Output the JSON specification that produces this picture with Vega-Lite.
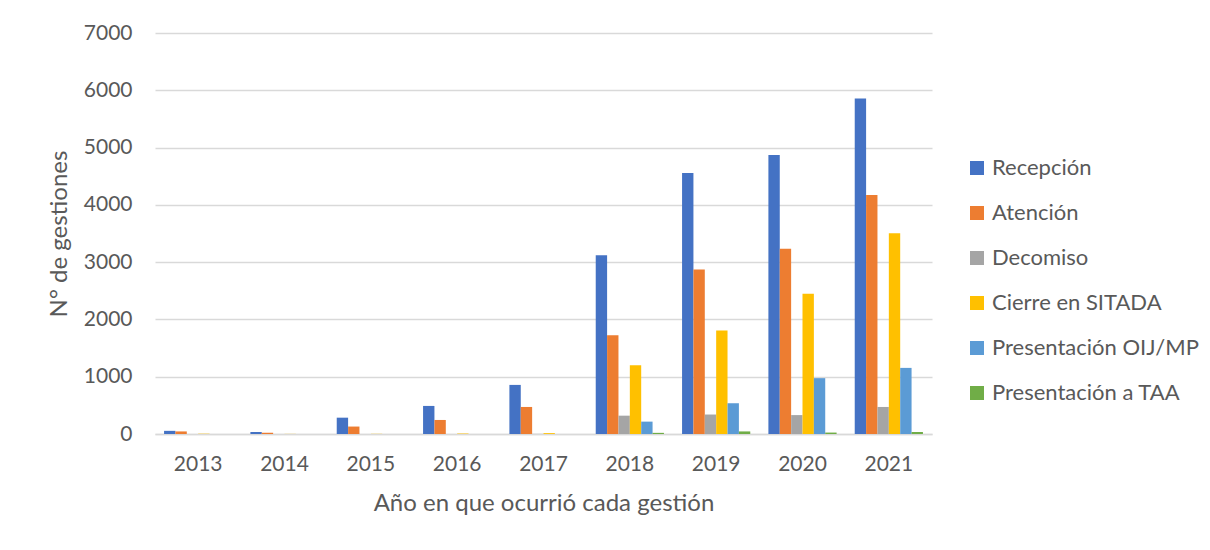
{
  "$schema": "https://vega.github.io/schema/vega-lite/v6.json",
  "width": 777,
  "height": 401,
  "autosize": {"type": "none"},
  "padding": {"left": 155, "top": 33, "right": 278, "bottom": 116},
  "background": "white",
  "config": {
    "view": {"stroke": null},
    "font": "Lato"
  },
  "data": {
    "values": [
      {"year": "2013", "series": "Recepción", "value": 55},
      {"year": "2013", "series": "Atención", "value": 45},
      {"year": "2013", "series": "Decomiso", "value": 0},
      {"year": "2013", "series": "Cierre en SITADA", "value": 5},
      {"year": "2013", "series": "Presentación OIJ/MP", "value": 0},
      {"year": "2013", "series": "Presentación a TAA", "value": 0},
      {"year": "2014", "series": "Recepción", "value": 35},
      {"year": "2014", "series": "Atención", "value": 20},
      {"year": "2014", "series": "Decomiso", "value": 0},
      {"year": "2014", "series": "Cierre en SITADA", "value": 2},
      {"year": "2014", "series": "Presentación OIJ/MP", "value": 0},
      {"year": "2014", "series": "Presentación a TAA", "value": 0},
      {"year": "2015", "series": "Recepción", "value": 285},
      {"year": "2015", "series": "Atención", "value": 130},
      {"year": "2015", "series": "Decomiso", "value": 0},
      {"year": "2015", "series": "Cierre en SITADA", "value": 3},
      {"year": "2015", "series": "Presentación OIJ/MP", "value": 0},
      {"year": "2015", "series": "Presentación a TAA", "value": 0},
      {"year": "2016", "series": "Recepción", "value": 490},
      {"year": "2016", "series": "Atención", "value": 245},
      {"year": "2016", "series": "Decomiso", "value": 0},
      {"year": "2016", "series": "Cierre en SITADA", "value": 8},
      {"year": "2016", "series": "Presentación OIJ/MP", "value": 0},
      {"year": "2016", "series": "Presentación a TAA", "value": 0},
      {"year": "2017", "series": "Recepción", "value": 857},
      {"year": "2017", "series": "Atención", "value": 472},
      {"year": "2017", "series": "Decomiso", "value": 2},
      {"year": "2017", "series": "Cierre en SITADA", "value": 15},
      {"year": "2017", "series": "Presentación OIJ/MP", "value": 0},
      {"year": "2017", "series": "Presentación a TAA", "value": 0},
      {"year": "2018", "series": "Recepción", "value": 3122},
      {"year": "2018", "series": "Atención", "value": 1725},
      {"year": "2018", "series": "Decomiso", "value": 320},
      {"year": "2018", "series": "Cierre en SITADA", "value": 1200},
      {"year": "2018", "series": "Presentación OIJ/MP", "value": 216},
      {"year": "2018", "series": "Presentación a TAA", "value": 20},
      {"year": "2019", "series": "Recepción", "value": 4554},
      {"year": "2019", "series": "Atención", "value": 2872},
      {"year": "2019", "series": "Decomiso", "value": 340},
      {"year": "2019", "series": "Cierre en SITADA", "value": 1808},
      {"year": "2019", "series": "Presentación OIJ/MP", "value": 537},
      {"year": "2019", "series": "Presentación a TAA", "value": 45},
      {"year": "2020", "series": "Recepción", "value": 4869},
      {"year": "2020", "series": "Atención", "value": 3234},
      {"year": "2020", "series": "Decomiso", "value": 330},
      {"year": "2020", "series": "Cierre en SITADA", "value": 2448},
      {"year": "2020", "series": "Presentación OIJ/MP", "value": 975},
      {"year": "2020", "series": "Presentación a TAA", "value": 25},
      {"year": "2021", "series": "Recepción", "value": 5855},
      {"year": "2021", "series": "Atención", "value": 4170},
      {"year": "2021", "series": "Decomiso", "value": 472},
      {"year": "2021", "series": "Cierre en SITADA", "value": 3505},
      {"year": "2021", "series": "Presentación OIJ/MP", "value": 1154},
      {"year": "2021", "series": "Presentación a TAA", "value": 35}
    ]
  },
  "mark": {"type": "bar"},
  "encoding": {
    "x": {
      "field": "year",
      "type": "nominal",
      "scale": {"paddingInner": 0.21, "paddingOuter": 0.105},
      "axis": {
        "title": "Año en que ocurrió cada gestión",
        "labelAngle": 0,
        "labelFont": "Lato",
        "labelFontSize": 21,
        "labelColor": "#595959",
        "labelPadding": 19,
        "titleFont": "Lato",
        "titleFontSize": 24,
        "titleFontWeight": "normal",
        "titleColor": "#595959",
        "titlePadding": 17,
        "ticks": false,
        "domainColor": "#D9D9D9",
        "domainWidth": 1.5
      }
    },
    "xOffset": {
      "field": "series",
      "type": "nominal",
      "sort": ["Recepción", "Atención", "Decomiso", "Cierre en SITADA", "Presentación OIJ/MP", "Presentación a TAA"],
      "scale": {"paddingInner": 0, "paddingOuter": 0}
    },
    "y": {
      "field": "value",
      "type": "quantitative",
      "scale": {"domain": [0, 7000], "nice": false},
      "axis": {
        "title": "N° de gestiones",
        "values": [0, 1000, 2000, 3000, 4000, 5000, 6000, 7000],
        "format": "d",
        "labelFont": "Lato",
        "labelFontSize": 21,
        "labelColor": "#595959",
        "labelPadding": 23,
        "titleFont": "Lato",
        "titleFontSize": 24,
        "titleFontWeight": "normal",
        "titleColor": "#595959",
        "titlePadding": 12,
        "ticks": false,
        "domain": false,
        "gridColor": "#D9D9D9",
        "gridWidth": 1.5
      }
    },
    "color": {
      "field": "series",
      "type": "nominal",
      "sort": ["Recepción", "Atención", "Decomiso", "Cierre en SITADA", "Presentación OIJ/MP", "Presentación a TAA"],
      "scale": {
        "domain": ["Recepción", "Atención", "Decomiso", "Cierre en SITADA", "Presentación OIJ/MP", "Presentación a TAA"],
        "range": ["#4472C4", "#ED7D31", "#A5A5A5", "#FFC000", "#5B9BD5", "#70AD47"]
      },
      "legend": {
        "title": null,
        "orient": "none",
        "legendX": 811,
        "legendY": 124,
        "symbolType": "square",
        "symbolSize": 196,
        "symbolStrokeWidth": 0,
        "labelFont": "Lato",
        "labelFontSize": 22,
        "labelColor": "#595959",
        "labelOffset": 4,
        "rowPadding": 23,
        "labelLimit": 400
      }
    }
  }
}
